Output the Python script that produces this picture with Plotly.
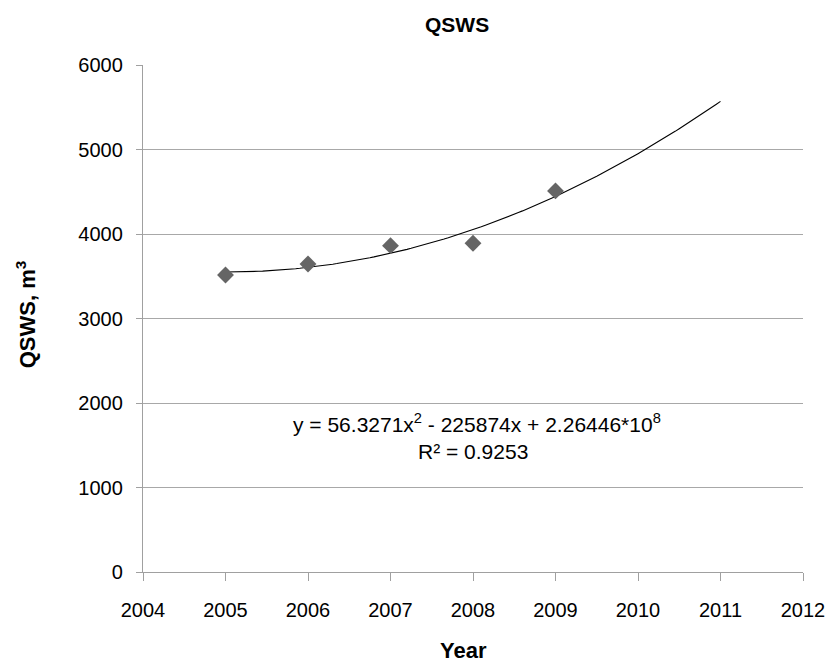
import numpy as np
import plotly.graph_objects as go

years = [2005, 2006, 2007, 2008, 2009]
qsws = [3515, 3645, 3862, 3890, 4510]

# quadratic trend fitted to the data (as the chart's trendline)
coef = np.polyfit(np.array(years) - 2005, qsws, 2)
trend_x = np.linspace(2005, 2011, 121)
trend_y = np.polyval(coef, trend_x - 2005)

FONT = "Liberation Sans, Arial, sans-serif"
W, H = 837, 662
PL, PR, PT, PB = 143, 810, 65, 572  # plot area in pixels


def px(x):
    return (x - PL) / (PR - PL)


def py(y):
    return (PB - y) / (PB - PT)


fig = go.Figure()
fig.add_trace(go.Scatter(x=trend_x, y=trend_y, mode="lines",
                         line=dict(color="black", width=1.1), showlegend=False,
                         hoverinfo="skip"))
fig.add_trace(go.Scatter(x=years, y=qsws, mode="markers",
                         marker=dict(symbol="diamond", size=13, color="#656565"),
                         showlegend=False))

fig.update_layout(
    width=W, height=H,
    margin=dict(l=PL, r=W - PR, t=PT, b=H - PB),
    paper_bgcolor="white", plot_bgcolor="white",
    font=dict(family=FONT, color="black", size=20),
    xaxis=dict(range=[2004, 2012], dtick=1, tick0=2004, showgrid=False,
               showline=True, linecolor="#a0a0a0", linewidth=1.3,
               ticks="outside", ticklen=8, tickcolor="#a0a0a0",
               ticklabelstandoff=12,
               tickfont=dict(size=20), zeroline=False),
    yaxis=dict(range=[0, 6000], dtick=1000, showgrid=True, gridcolor="#a8a8a8",
               gridwidth=1.1, showline=True, linecolor="#a0a0a0", linewidth=1.3,
               ticks="outside", ticklen=6, tickcolor="#a0a0a0",
               ticklabelstandoff=9,
               tickfont=dict(size=20), zeroline=False),
)

fig.add_annotation(x=px(460), y=py(24), xref="paper", yref="paper",
                   text="<b>QSWS</b>", showarrow=False, font=dict(size=21),
                   xanchor="center", yanchor="middle")
fig.add_annotation(x=px(467), y=py(650), xref="paper", yref="paper",
                   text="<b>Year</b>", showarrow=False, font=dict(size=22),
                   xanchor="center", yanchor="middle")
fig.add_annotation(x=px(25), y=py(314), xref="paper", yref="paper",
                   text="<b>QSWS, m<sup>3</sup></b>", showarrow=False, font=dict(size=22),
                   textangle=-90, xanchor="center", yanchor="middle")

fig.add_annotation(x=px(481), y=py(423), xref="paper", yref="paper",
                   text="y = 56.3271x<sup>2</sup> - 225874x + 2.26446*10<sup>8</sup>",
                   showarrow=False, font=dict(size=21), xanchor="center", yanchor="middle")
fig.add_annotation(x=px(476), y=py(451), xref="paper", yref="paper",
                   text="R² = 0.9253",
                   showarrow=False, font=dict(size=21), xanchor="center", yanchor="middle")

fig.write_html("out.html", config={"displayModeBar": False},
               post_script="document.body.style.margin='0';document.body.style.overflow='hidden';")
